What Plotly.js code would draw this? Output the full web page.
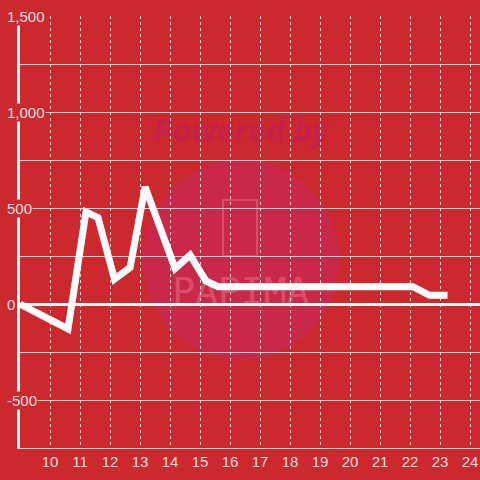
<!DOCTYPE html>
<html>
<head>
<meta charset="utf-8">
<script src="https://cdn.plot.ly/plotly-3.0.1.min.js"></script>
<style>html,body{margin:0;padding:0;background:#cc292e;}#chart{width:480px;height:480px;}</style>
</head>
<body>
<div id="chart"></div>
<script>
var hours = [9, 10.6, 11.2, 11.6, 12.15, 12.67, 13.17, 14.17, 14.67, 15.2, 15.6, 22.1, 22.65, 23.25];
var values = [0, -130, 480, 450, 130, 190, 610, 185, 255, 120, 90, 90, 45, 45];
var xTicks = [10, 11, 12, 13, 14, 15, 16, 17, 18, 19, 20, 21, 22, 23, 24];
var yTicks = [1500, 1000, 500, 0, -500];
var yTickLabels = ['1,500', '1,000', '500', '0', '-500'];

var bg = '#cc292e';
var labelColor = '#f3dfdf';
var gridColor = '#d9d9d9';

var trace = {
  x: hours, y: values, type: 'scatter', mode: 'lines',
  line: {color: '#ffffff', width: 7},
  hoverinfo: 'skip'
};

var annotations = yTicks.map(function(v, i){
  return {
    xref: 'paper', yref: 'y', x: -14/460, y: v, xanchor: 'left', yanchor: 'middle',
    text: yTickLabels[i], showarrow: false, bgcolor: bg, borderpad: 0,
    font: {family: 'Liberation Sans, Arial, sans-serif', size: 15, color: labelColor}
  };
});

var shapes = [
  {type: 'circle', xref: 'paper', yref: 'paper', x0: 0.2674, x1: 0.6935, y0: 0.2037, y1: 0.6667,
   fillcolor: '#c92848', line: {width: 0}, layer: 'below'},
  {type: 'rect', xref: 'paper', yref: 'paper', x0: 0.4413, x1: 0.5152, y0: 0.4444, y1: 0.5741,
   fillcolor: 'rgba(0,0,0,0)', line: {color: '#d6506a', width: 2}, layer: 'below'},
  {type: 'rect', xref: 'paper', yref: 'paper', x0: 0.15, x1: 0.81, y0: 0.70, y1: 0.765,
   fillcolor: 'rgba(0,0,0,0)', line: {width: 0}, layer: 'below',
   label: {text: 'Powered by', textposition: 'middle center',
     font: {family: 'Open Sans, DejaVu Sans, sans-serif', size: 32, color: '#c5214a', weight: 'bold', style: 'italic'}}},
  {type: 'rect', xref: 'paper', yref: 'paper', x0: 0.28, x1: 0.68, y0: 0.33, y1: 0.41,
   fillcolor: 'rgba(0,0,0,0)', line: {width: 0}, layer: 'below',
   label: {text: 'PAPIMA', textposition: 'middle center',
     font: {family: 'DejaVu Sans Mono, monospace', size: 38, color: 'rgba(232,110,130,0.55)'}}}
];

var layout = {
  width: 480, height: 480,
  margin: {l: 20, r: 0, t: 16, b: 32, pad: 0},
  paper_bgcolor: bg, plot_bgcolor: bg,
  showlegend: false,
  xaxis: {
    range: [9, 9 + 460/30], tickvals: xTicks, ticktext: xTicks.map(String),
    showgrid: true, gridcolor: gridColor, gridwidth: 1, griddash: 'dot',
    zeroline: false, showline: true, linecolor: gridColor, linewidth: 1,
    ticks: '', tickfont: {family: 'Liberation Sans, Arial, sans-serif', size: 15, color: labelColor},
    fixedrange: true
  },
  yaxis: {
    range: [-750, 1500], dtick: 250, tick0: 0,
    showgrid: true, gridcolor: gridColor, gridwidth: 1,
    zeroline: true, zerolinecolor: '#f4f4f4', zerolinewidth: 3,
    showline: true, linecolor: '#f4f4f4', linewidth: 3,
    showticklabels: false, ticks: '', fixedrange: true
  },
  annotations: annotations,
  shapes: shapes
};

Plotly.newPlot('chart', [trace], layout, {displayModeBar: false, staticPlot: true});
</script>
</body>
</html>
